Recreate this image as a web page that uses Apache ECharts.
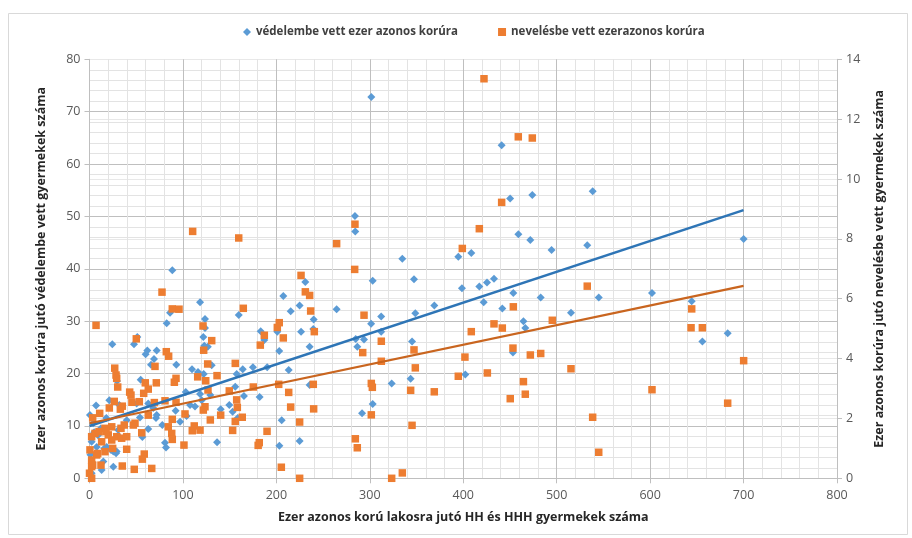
<!DOCTYPE html>
<html>
<head>
<meta charset="utf-8">
<script src="https://cdn.jsdelivr.net/npm/echarts@6/dist/echarts.min.js"></script>
<style>
html,body{margin:0;padding:0;background:#fff;}
#chart{width:912px;height:538px;}
</style>
</head>
<body>
<div id="chart"></div>
<script>
// ---- DATA ----
const seriesNames = ['védelembe vett ezer azonos korúra', 'nevelésbe vett ezerazonos korúra'];
const axisTitles = {
  x: 'Ezer azonos korú lakosra jutó HH és HHH gyermekek száma',
  left: 'Ezer azonos korúra jutó védelembe vett gyermekek száma',
  right: 'Ezer azonos korúra jutó nevelésbe vett gyermekek száma'
};
const xTicks = [0, 800, 100];      // min, max, interval
const leftTicks = [0, 80, 10];
const rightTicks = [0, 14, 2];

// védelembe vett (left axis)
const vedelembe = [
[301.6,72.8],[441.1,63.6],[473.9,54.1],[450.2,53.4],[284.1,50.1],[284.4,47.1],[459.0,46.6],[471.8,45.5],
[394.7,42.3],[408.6,43.0],[334.8,41.9],[303.1,37.7],[347.3,38.0],[398.6,36.3],[417.2,36.6],[425.4,37.4],
[432.9,38.1],[421.9,33.6],[453.6,35.4],[494.5,43.6],[482.9,34.5],[441.8,32.4],[464.4,30.0],[466.4,28.7],
[453.2,24.0],[402.2,19.8],[369.0,33.0],[348.7,31.5],[312.2,30.9],[301.4,29.5],[312.2,28.0],[293.8,26.5],
[284.9,26.6],[286.6,25.1],[345.2,26.1],[264.5,32.3],[207.4,34.8],[215.3,31.9],[224.9,33.0],[231.0,37.5],
[239.9,30.3],[239.5,28.5],[226.4,28.0],[201.0,28.0],[203.1,24.3],[235.6,25.1],[213.2,20.7],[235.6,17.8],
[323.4,18.1],[343.7,19.0],[303.1,14.2],[291.7,12.4],[205.7,11.1],[203.2,6.2],[224.9,7.1],
[538.5,54.8],[532.7,44.5],[700.1,45.7],[545.0,34.5],[602.0,35.4],[644.5,33.8],[515.3,31.6],[655.9,26.1],[683.0,27.7],
[88.6,39.7],
[159.7,31.2],[183.2,28.1],[187.1,26.4],[126.6,25.1],[130.8,21.6],[164.0,20.8],[174.9,21.2],[190.2,21.2],
[157.5,19.9],[156.0,17.5],[129.3,15.9],[165.3,15.7],[182.1,15.5],[140.4,13.2],[149.6,14.0],[153.2,12.7],
[158.6,11.5],[136.5,6.9],[123.6,30.4],[123.6,28.7],
[118.3,33.6],[86.2,31.6],[82.6,29.6],[121.8,27.0],[122.9,25.3],[24.4,25.6],[47.6,25.6],[51.2,27.0],
[61.9,24.4],[60.1,23.7],[71.9,24.4],[69.0,22.8],[65.8,21.7],[92.9,21.7],[109.7,20.8],[116.1,20.3],
[122.2,19.9],[54.8,18.8],[103.0,16.5],[118.3,16.1],[29.4,18.6],
[7.0,13.9],[21.2,14.9],[39.8,11.1],[54.0,11.6],[62.9,9.4],[77.9,10.2],[71.9,12.1],[96.9,10.8],
[103.9,11.9],[80.8,6.8],[81.9,5.9],[56.6,7.9],[25.5,5.1],[29.1,5.1],[14.8,3.2],[25.5,2.2],[13.0,1.6],
[2.3,0.95],[18.4,6.0],[30.8,9.2],[62.9,14.3],[68.2,13.4],[50.5,14.3],[92.2,12.9],[107.6,14.0],[120.1,14.9],
[0.5,12.1],[4.0,10.5],[2.3,7.0],[7.7,6.0],[112.9,13.7],[71.2,11.5],
[31.9,14.0],[31.9,7.9],[15.8,5.7],[23.0,5.4],[28.4,4.8],[12.0,9.5],[18.0,11.5],[9.0,8.2],
[1.0,4.5],[3.0,3.0],[5.0,8.8]
];

// nevelésbe vett (right axis)
const nevelesbe = [
[422.2,13.35],[458.9,11.41],[473.9,11.37],[441.1,9.22],[417.2,8.34],[284.1,8.49],[399.0,7.68],[264.5,7.84],
[283.8,6.98],[226.4,6.78],[231.0,6.23],[235.6,6.11],[236.7,5.59],[203.1,5.20],[201.0,5.04],[240.6,4.90],
[207.4,4.69],[293.8,5.45],[312.3,4.58],[292.4,4.20],[312.3,3.91],[347.3,4.29],[348.7,3.69],[408.6,4.90],
[432.9,5.16],[441.8,5.02],[453.6,5.73],[453.2,4.35],[471.8,4.12],[482.9,4.17],[401.8,4.05],[425.8,3.52],
[394.7,3.41],[464.4,3.23],[466.4,2.81],[450.3,2.66],[369.0,2.89],[343.7,2.94],[345.2,1.77],[301.6,3.17],
[302.7,3.04],[301.6,2.12],[239.5,3.14],[202.5,3.14],[213.2,2.87],[215.3,2.38],[239.9,2.32],[224.9,1.88],
[284.5,1.32],[286.6,1.02],[205.3,0.37],[224.9,0.0],[323.4,0.0],[334.8,0.18],
[532.7,6.42],[495.3,5.28],[644.5,5.66],[643.8,5.03],[655.9,5.03],[515.3,3.66],[700.1,3.93],[602.0,2.96],
[683.0,2.51],[538.5,2.04],[545.0,0.87],
[110.4,8.25],[159.7,8.03],
[164.6,5.68],[187.1,4.78],[182.8,4.45],[130.8,4.60],[126.5,3.82],[156.0,3.84],[136.5,3.43],[124.4,3.26],
[149.6,2.92],[157.5,2.62],[158.2,2.37],[140.4,2.11],[129.3,1.95],[163.5,2.04],[156.0,1.90],[153.2,1.60],
[190.0,1.57],[181.7,1.19],[180.5,1.10],[123.6,2.39],[175.3,3.05],
[77.6,6.22],[88.6,5.66],[95.8,5.65],[7.0,5.11],[121.5,5.09],[50.1,4.66],[122.2,4.28],[82.2,4.23],
[84.7,4.08],[70.1,3.74],[27.0,3.68],[28.4,3.45],[29.1,3.34],[30.2,3.05],[59.7,3.19],[71.5,3.19],
[92.6,3.34],[90.8,3.21],[62.9,2.98],[43.0,2.88],[115.8,3.39],[126.8,2.95],
[58.0,2.84],[26.5,2.57],[45.4,2.54],[21.2,2.35],[10.9,2.17],[35.1,2.41],[69.4,2.53],[80.8,2.59],
[92.6,2.54],[102.2,2.15],[121.8,2.28],[3.4,2.02],[62.9,2.11],[88.6,1.97],[84.3,1.72],[48.7,1.84],
[46.9,1.78],[37.2,1.78],[23.8,1.72],[16.6,1.67],[10.2,1.56],[5.9,1.50],[2.3,1.39],[29.1,1.39],
[34.4,1.34],[39.8,1.39],[55.9,1.52],[88.0,1.50],[88.6,1.30],[110.0,1.59],[118.3,1.61],[112.1,1.75],
[101.1,1.11],[39.8,0.97],[58.6,0.81],[56.6,0.64],[35.1,0.41],[47.9,0.30],[66.6,0.33],[2.3,0.61],
[2.3,0.39],[2.3,0.0],[0.5,0.95],[13.0,1.22],[16.6,0.89],[7.7,0.78],[23.8,1.28],[20.1,1.45],
[33.0,2.31],[44.4,2.78],[53.3,2.56],[33.7,1.67],[17.7,1.56],[24.8,1.00],[3.4,0.44],[12.3,0.44],
[0.0,0.17],[8.8,0.83]
];

// linear trend lines (endpoints)
const trendVedelembe = [[0, 10.0], [700, 51.2]];
const trendNevelesbe = [[0, 1.84], [700, 6.43]];

// ---- CHART ----
const chart = echarts.init(document.getElementById('chart'), null, {renderer: 'canvas'});
const fontFam = '"Open Sans", "Noto Sans", sans-serif';
const labelStyle = {color: '#595959', fontSize: 12.5, fontFamily: fontFam};
const nameStyle = {color: '#262626', fontSize: 12.5, fontWeight: 'bold', fontFamily: fontFam};

const option = {
  backgroundColor: '#fff',
  animation: false,
  graphic: [{
    type: 'rect', left: 6, top: 11, silent: true,
    shape: {width: 899, height: 521},
    style: {fill: 'none', stroke: '#D9D9D9', lineWidth: 1}
  }],
  legend: {
    top: 21, left: 238,
    itemWidth: 8, itemHeight: 8, itemGap: 40,
    data: seriesNames,
    textStyle: {color: '#404040', fontSize: 11.5, fontWeight: 'bold', fontFamily: fontFam}
  },
  grid: {left: 89.5, right: 75, top: 59.3, bottom: 59.7, containLabel: false, outerBoundsMode: 'none'},
  xAxis: {
    type: 'value', min: xTicks[0], max: xTicks[1], interval: xTicks[2],
    name: axisTitles.x, nameLocation: 'middle', nameGap: 33, nameTextStyle: nameStyle,
    axisLine: {show: true, lineStyle: {color: '#BFBFBF'}},
    axisTick: {show: true, length: 5, lineStyle: {color: '#BFBFBF'}},
    axisLabel: Object.assign({margin: 11}, labelStyle),
    splitLine: {show: true, lineStyle: {color: '#BFBFBF', width: 1}},
    minorTick: {show: false, splitNumber: 5},
    minorSplitLine: {show: true, lineStyle: {color: '#E3E3E3', width: 1}}
  },
  yAxis: [{
    type: 'value', position: 'left', min: leftTicks[0], max: leftTicks[1], interval: leftTicks[2],
    name: axisTitles.left, nameLocation: 'middle', nameGap: 42, nameRotate: 90, nameTextStyle: nameStyle,
    axisLine: {show: true, lineStyle: {color: '#BFBFBF'}},
    axisTick: {show: true, length: 5, lineStyle: {color: '#BFBFBF'}},
    axisLabel: Object.assign({margin: 9}, labelStyle),
    splitLine: {show: true, lineStyle: {color: '#BFBFBF', width: 1}},
    minorTick: {show: false, splitNumber: 5},
    minorSplitLine: {show: true, lineStyle: {color: '#E3E3E3', width: 1}}
  }, {
    type: 'value', position: 'right', min: rightTicks[0], max: rightTicks[1], interval: rightTicks[2],
    name: axisTitles.right, nameLocation: 'middle', nameGap: 36, nameRotate: 90, nameTextStyle: nameStyle,
    axisLine: {show: true, lineStyle: {color: '#BFBFBF'}},
    axisTick: {show: true, length: 5, lineStyle: {color: '#BFBFBF'}},
    axisLabel: Object.assign({margin: 9}, labelStyle),
    splitLine: {show: true, lineStyle: {color: '#E8E8E8', width: 1}}
  }],
  series: [{
    name: seriesNames[0], type: 'scatter', yAxisIndex: 0, data: vedelembe,
    symbol: 'diamond', symbolSize: 8,
    itemStyle: {color: '#5B9BD5', opacity: 1}, z: 3
  }, {
    name: seriesNames[1], type: 'scatter', yAxisIndex: 1, data: nevelesbe,
    symbol: 'rect', symbolSize: 7.5,
    itemStyle: {color: '#ED7D31', opacity: 1}, z: 4
  }, {
    name: 'trend1', type: 'line', yAxisIndex: 0, data: trendVedelembe,
    showSymbol: false, silent: true, z: 6,
    lineStyle: {color: '#2E75B6', width: 2.6}
  }, {
    name: 'trend2', type: 'line', yAxisIndex: 1, data: trendNevelesbe,
    showSymbol: false, silent: true, z: 6,
    lineStyle: {color: '#C9651F', width: 2.2}
  }]
};
chart.setOption(option);
</script>
</body>
</html>
